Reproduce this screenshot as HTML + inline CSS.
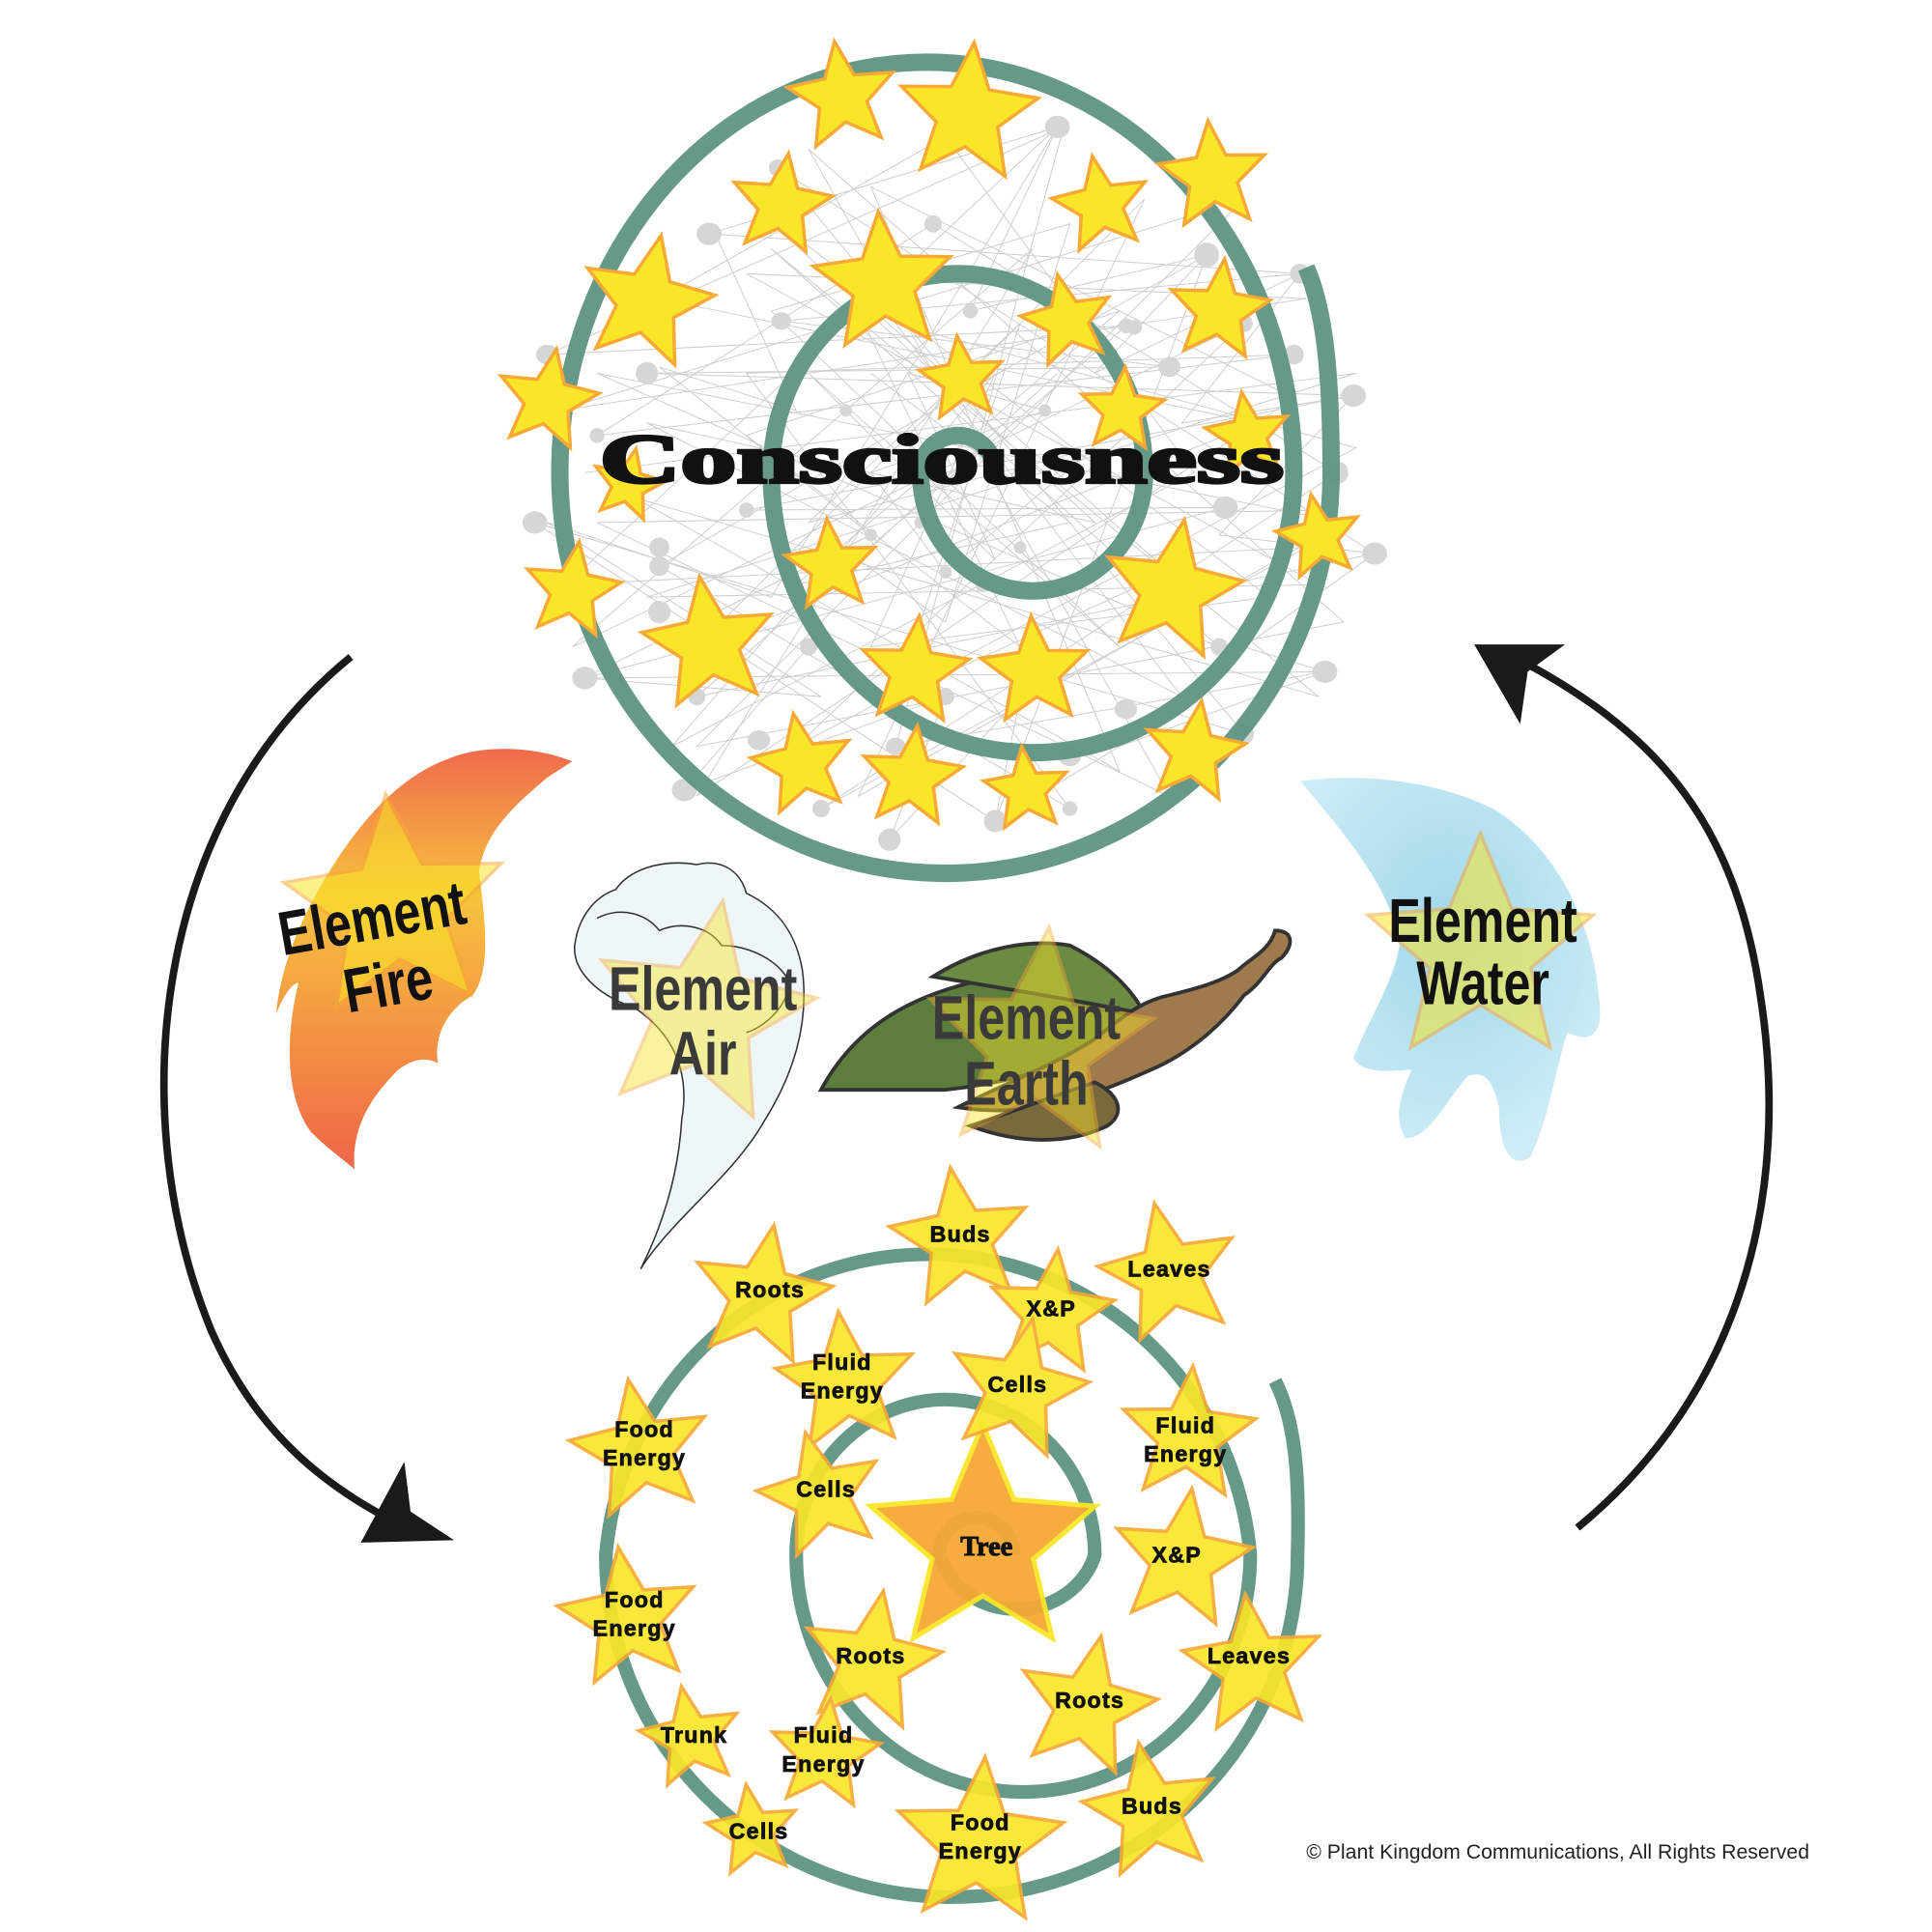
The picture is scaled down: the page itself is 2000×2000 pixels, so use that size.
<!DOCTYPE html>
<html><head><meta charset="utf-8"><style>
html,body{margin:0;padding:0;background:#fff}
svg{display:block}
.lbl{font-family:"Liberation Sans",sans-serif;font-weight:bold;text-anchor:middle;font-size:50px}
.sl{font-family:"Liberation Sans",sans-serif;font-weight:900;font-size:18px;text-anchor:middle;fill:#111;stroke:#111;stroke-width:0.6;letter-spacing:1px}
</style></head><body>
<svg width="2000" height="2000" viewBox="0 0 1553 1553" xmlns="http://www.w3.org/2000/svg">
<defs>
<path id="st" d="M0,-1 L0.265,-0.364 L0.951,-0.309 L0.428,0.139 L0.588,0.809 L0,0.45 L-0.588,0.809 L-0.428,0.139 L-0.951,-0.309 L-0.265,-0.364Z" fill="#f9e629" stroke="#f6a934" stroke-width="3.5" vector-effect="non-scaling-stroke"/>
<path id="sto" d="M0,-1 L0.265,-0.364 L0.951,-0.309 L0.428,0.139 L0.588,0.809 L0,0.45 L-0.588,0.809 L-0.428,0.139 L-0.951,-0.309 L-0.265,-0.364Z" fill="#f6a934" stroke="#f9e629" stroke-width="5" vector-effect="non-scaling-stroke"/>
<linearGradient id="fire" x1="0" y1="0" x2="0" y2="1">
<stop offset="0" stop-color="#ef6a4d"/><stop offset="0.35" stop-color="#f7c33e"/><stop offset="1" stop-color="#ef6548"/></linearGradient>
<radialGradient id="wat" cx="0.5" cy="0.4" r="0.6"><stop offset="0" stop-color="#8fd0e6"/><stop offset="1" stop-color="#c5e9f5"/></radialGradient>
</defs>

<!-- network -->
<g stroke="#cfcfcf" stroke-width="0.8" fill="none">
<polyline points="850,102 570,188 1045,220 628,258 940,295 520,300 1088,318 600,410 985,408 470,545 1065,540 720,600 855,102 440,285 905,262 560,560 1105,445 625,135 1000,590 430,420 800,660 970,205 530,455 860,650 600,300 1040,285 480,350 750,180 1075,380 660,650 1050,440 455,470 850,102"/>
<polyline points="760,110 530,240 1010,340 560,520 920,160 690,640 1080,420 480,300 980,520 620,200 1060,560 510,400 900,620 700,150 1040,320 560,640 830,200 460,520 1000,260 640,600 1090,360 720,260 950,560 520,340 880,420 600,160 1020,480 700,520 800,300 540,600 960,380 760,110"/>
<polyline points="700,300 860,420 640,470 900,250 600,350 820,520 680,230 940,460 720,560 820,260 650,420 880,360 760,460 700,380 840,330 730,300 800,450 650,300 900,520 620,250 860,180 760,500 690,450 850,300"/>
<polyline points="575,188 640,330 530,295 700,430 470,545 660,560 440,420 620,480 850,102 780,250 970,205 880,300 1045,220 950,340 1088,318 980,430 1105,445 1000,520 1065,540 900,600 800,660 820,560 715,675 760,560 550,635 650,520"/>
<polyline points="470,380 1090,300 520,480 1060,470 600,220 1050,240 450,330 1000,160 560,600 1080,500 650,120 940,640 480,420 1070,410"/>
</g>
<g fill="#d6d6d6">
<ellipse cx="850" cy="102" rx="10" ry="9"/><ellipse cx="570" cy="188" rx="10" ry="9"/><ellipse cx="1045" cy="220" rx="8" ry="8"/><ellipse cx="628" cy="258" rx="8" ry="7"/><ellipse cx="940" cy="295" rx="9" ry="8"/><ellipse cx="520" cy="300" rx="9" ry="9"/><ellipse cx="1088" cy="318" rx="10" ry="9"/><ellipse cx="600" cy="410" rx="6" ry="6"/><ellipse cx="985" cy="408" rx="10" ry="9"/><ellipse cx="470" cy="545" rx="10" ry="9"/><ellipse cx="1065" cy="540" rx="10" ry="9"/><ellipse cx="720" cy="600" rx="8" ry="7"/><ellipse cx="440" cy="285" rx="9" ry="8"/><ellipse cx="905" cy="262" rx="6" ry="6"/><ellipse cx="560" cy="560" rx="7" ry="7"/><ellipse cx="1105" cy="445" rx="10" ry="9"/><ellipse cx="625" cy="135" rx="7" ry="7"/><ellipse cx="1000" cy="590" rx="8" ry="8"/><ellipse cx="430" cy="420" rx="10" ry="9"/><ellipse cx="800" cy="660" rx="9" ry="9"/><ellipse cx="970" cy="205" rx="10" ry="10"/><ellipse cx="530" cy="455" rx="8" ry="8"/><ellipse cx="860" cy="650" rx="6" ry="6"/><ellipse cx="1040" cy="285" rx="8" ry="8"/><ellipse cx="480" cy="350" rx="6" ry="6"/><ellipse cx="750" cy="180" rx="7" ry="7"/><ellipse cx="1075" cy="380" rx="9" ry="9"/><ellipse cx="660" cy="650" rx="7" ry="7"/><ellipse cx="455" cy="470" rx="6" ry="6"/><ellipse cx="550" cy="635" rx="10" ry="9"/><ellipse cx="715" cy="675" rx="9" ry="9"/><ellipse cx="610" cy="595" rx="9" ry="8"/><ellipse cx="905" cy="570" rx="9" ry="8"/><ellipse cx="860" cy="608" rx="9" ry="8"/><ellipse cx="530" cy="492" rx="9" ry="9"/><ellipse cx="530" cy="440" rx="8" ry="8"/><ellipse cx="780" cy="250" rx="6" ry="6"/><ellipse cx="912" cy="263" rx="6" ry="6"/><ellipse cx="700" cy="430" rx="5" ry="5"/><ellipse cx="760" cy="460" rx="5" ry="5"/><ellipse cx="820" cy="440" rx="5" ry="5"/><ellipse cx="740" cy="420" rx="5" ry="5"/><ellipse cx="680" cy="330" rx="5" ry="5"/><ellipse cx="840" cy="330" rx="5" ry="5"/><ellipse cx="790" cy="470" rx="6" ry="6"/><ellipse cx="650" cy="520" rx="7" ry="7"/><ellipse cx="820" cy="560" rx="7" ry="7"/><ellipse cx="760" cy="560" rx="7" ry="7"/><ellipse cx="980" cy="520" rx="7" ry="7"/><ellipse cx="1000" cy="260" rx="7" ry="7"/>
</g>

<!-- top spiral -->
<path d="M800,380 A30,30 0 0 0 740,380 A90,95 0 0 0 920,380 A150,160 0 0 0 620,380 A210,225 0 0 0 1040,380 A295,330 0 0 0 450,380 A310,322 0 0 0 1070,380 C1070,300 1065,250 1050,215" fill="none" stroke="#5f9483" stroke-width="14" opacity="0.95"/>

<!-- top stars -->
<g>
<use href="#st" transform="translate(677,78) scale(45) rotate(-8)"/>
<use href="#st" transform="translate(778,92) scale(58) rotate(5)"/>
<use href="#st" transform="translate(975,142) scale(45) rotate(-5)"/>
<use href="#st" transform="translate(628,165) scale(42) rotate(8)"/>
<use href="#st" transform="translate(885,165) scale(40) rotate(-10)"/>
<use href="#st" transform="translate(520,243) scale(55) rotate(12)"/>
<use href="#st" transform="translate(710,228) scale(58) rotate(-4)"/>
<use href="#st" transform="translate(980,250) scale(42) rotate(6)"/>
<use href="#st" transform="translate(858,258) scale(38) rotate(-12)"/>
<use href="#st" transform="translate(440,322) scale(42) rotate(10)"/>
<use href="#st" transform="translate(773,305) scale(35) rotate(-6)"/>
<use href="#st" transform="translate(902,330) scale(35) rotate(4)"/>
<use href="#st" transform="translate(1003,350) scale(35) rotate(-8)"/>
<use href="#st" transform="translate(505,390) scale(30) rotate(12)"/>
<use href="#st" transform="translate(1060,432) scale(35) rotate(-10)"/>
<use href="#st" transform="translate(460,475) scale(40) rotate(8)"/>
<use href="#st" transform="translate(668,455) scale(38) rotate(-5)"/>
<use href="#st" transform="translate(942,475) scale(58) rotate(10)"/>
<use href="#st" transform="translate(570,518) scale(55) rotate(-8)"/>
<use href="#st" transform="translate(735,540) scale(45) rotate(5)"/>
<use href="#st" transform="translate(832,540) scale(45) rotate(-4)"/>
<use href="#st" transform="translate(960,605) scale(42) rotate(8)"/>
<use href="#st" transform="translate(645,615) scale(42) rotate(-10)"/>
<use href="#st" transform="translate(733,625) scale(42) rotate(6)"/>
<use href="#st" transform="translate(825,635) scale(35) rotate(-6)"/>
</g>
<text x="757" y="388" font-family="'Liberation Serif',serif" font-weight="bold" font-size="56" textLength="550" lengthAdjust="spacingAndGlyphs" text-anchor="middle" fill="#111" stroke="#111" stroke-width="2.5">Consciousness</text>

<!-- arrows -->
<path d="M282,528 C120,660 100,900 170,1070 C210,1160 270,1200 330,1230" fill="none" stroke="#1a1a1a" stroke-width="6"/>
<path d="M290,1240 L325,1175 L330,1215 L365,1238 Z" fill="#1a1a1a"/>
<path d="M1268,1228 C1400,1120 1440,960 1415,800 C1395,660 1330,590 1230,535" fill="none" stroke="#1a1a1a" stroke-width="6"/>
<path d="M1185,518 L1258,518 L1228,540 L1222,582 Z" fill="#1a1a1a"/>

<!-- fire -->
<path d="M460,612 C430,600 390,598 360,610 C320,625 290,660 265,700 C240,740 225,780 222,815 C228,800 235,790 240,790 C230,830 228,880 250,910 C265,925 280,935 285,940 C282,905 300,880 320,860 C340,845 352,855 352,855 C348,830 362,810 380,800 C395,780 390,740 385,700 C390,670 410,650 440,625 Z" fill="url(#fire)"/>
<use href="#st" transform="translate(318,730) scale(92) rotate(-5)" opacity="0.55"/>
<g transform="translate(302,755) rotate(-10) scale(0.78,1)"><text class="lbl" fill="#111">Element</text></g>
<g transform="translate(315,808) rotate(-10) scale(0.78,1)"><text class="lbl" fill="#111">Fire</text></g>

<!-- air -->
<path d="M515,1020 C540,980 590,945 615,900 C640,860 650,820 645,780 C640,750 625,730 600,718 C595,700 580,690 560,695 C530,690 505,700 495,715 C480,720 465,735 462,760 C460,780 480,800 510,810 C540,830 555,860 548,900 C545,950 530,990 515,1020 Z" fill="#eef6f8" stroke="#333" stroke-width="1.2"/>
<path d="M480,738 C500,728 520,735 530,748 C548,740 570,745 580,760 C600,760 625,770 635,790 C632,810 615,825 600,830" fill="none" stroke="#333" stroke-width="1.2"/>
<use href="#st" transform="translate(565,815) scale(92) rotate(10)" opacity="0.45"/>
<g transform="translate(565,812) scale(0.78,1)"><text class="lbl" fill="#3a3a3a">Element</text></g>
<g transform="translate(565,864) scale(0.78,1)"><text class="lbl" fill="#3a3a3a">Air</text></g>

<!-- earth -->
<path d="M660,876 C690,820 740,800 780,790 C820,785 880,795 930,815 C880,850 820,870 760,876 Z" fill="#5c7d3b" stroke="#333" stroke-width="3"/>
<path d="M750,785 C790,760 830,755 860,760 C890,775 910,795 920,815 C870,805 810,795 750,785 Z" fill="#6b8a42" stroke="#333" stroke-width="3"/>
<path d="M770,890 C830,900 880,880 925,860 C960,845 985,820 1000,800 C1015,790 1020,775 1030,770 C1040,760 1040,748 1025,748 C1020,765 1005,770 995,780 C980,790 960,795 940,800 C915,805 900,820 880,835 C850,855 810,870 770,890 Z" fill="#9e7a4d" stroke="#333" stroke-width="3"/>
<path d="M780,905 C810,895 850,880 880,870 C900,880 905,895 890,905 C860,920 820,920 780,905 Z" fill="#7a6a3b" stroke="#333" stroke-width="3"/>
<use href="#st" transform="translate(835,840) scale(95) rotate(5)" opacity="0.45"/>
<g transform="translate(825,835) scale(0.78,1)"><text class="lbl" fill="#3a3a3a">Element</text></g>
<g transform="translate(825,888) scale(0.78,1)"><text class="lbl" fill="#3a3a3a">Earth</text></g>

<!-- water -->
<path d="M1045,628 C1100,620 1160,630 1200,650 C1250,680 1280,740 1285,800 C1290,830 1280,840 1260,830 C1250,860 1245,900 1230,930 C1215,940 1205,925 1205,890 C1200,870 1195,860 1180,865 C1165,880 1150,915 1130,915 C1120,900 1125,880 1135,860 C1120,860 1095,865 1088,850 C1100,820 1120,790 1125,760 C1120,720 1090,680 1045,628 Z" fill="url(#wat)" opacity="0.85"/>
<use href="#st" transform="translate(1190,765) scale(95)" opacity="0.55"/>
<g transform="translate(1192,757) scale(0.78,1)"><text class="lbl" fill="#111">Element</text></g>
<g transform="translate(1192,807) scale(0.78,1)"><text class="lbl" fill="#111">Water</text></g>

<!-- bottom spiral -->
<path d="M815,1250 A30,30 0 0 0 755,1250 A65,60 0 0 0 880,1250 A120,125 0 0 0 640,1250 A182,190 0 0 0 1005,1250 A260,265 0 0 0 487,1250 A278,275 0 0 0 1043,1250 C1045,1180 1040,1140 1025,1110" fill="none" stroke="#5f9483" stroke-width="11" opacity="0.95"/>

<!-- bottom stars -->
<use href="#sto" transform="translate(790,1240) scale(95)" opacity="0.95"/>
<text x="793" y="1250" font-family="'Liberation Serif',serif" font-weight="bold" font-size="22" text-anchor="middle" fill="#111" stroke="#111" stroke-width="0.8">Tree</text>
<g opacity="0.92">
<use href="#st" transform="translate(772,996) scale(58) rotate(-8)"/>
<use href="#st" transform="translate(612,1042) scale(58) rotate(10)"/>
<use href="#st" transform="translate(940,1024) scale(58) rotate(-12)"/>
<use href="#st" transform="translate(845,1056) scale(52) rotate(6)"/>
<use href="#st" transform="translate(680,1112) scale(58) rotate(-6)"/>
<use href="#st" transform="translate(818,1117) scale(58) rotate(12)"/>
<use href="#st" transform="translate(515,1166) scale(58) rotate(-10)"/>
<use href="#st" transform="translate(955,1154) scale(56) rotate(4)"/>
<use href="#st" transform="translate(660,1202) scale(52) rotate(-14)"/>
<use href="#st" transform="translate(950,1254) scale(58) rotate(8)"/>
<use href="#st" transform="translate(505,1301) scale(58) rotate(-8)"/>
<use href="#st" transform="translate(700,1336) scale(58) rotate(10)"/>
<use href="#st" transform="translate(1007,1339) scale(58) rotate(-6)"/>
<use href="#st" transform="translate(873,1372) scale(58) rotate(12)"/>
<use href="#st" transform="translate(555,1397) scale(42) rotate(-10)"/>
<use href="#st" transform="translate(663,1411) scale(46) rotate(6)"/>
<use href="#st" transform="translate(605,1472) scale(38) rotate(-8)"/>
<use href="#st" transform="translate(787,1482) scale(70) rotate(4)"/>
<use href="#st" transform="translate(925,1456) scale(56) rotate(-10)"/>
</g>
<g>
<text class="sl" x="772" y="998">Buds</text>
<text class="sl" x="619" y="1043">Roots</text>
<text class="sl" x="940" y="1026">Leaves</text>
<text class="sl" x="845" y="1058">X&amp;P</text>
<text class="sl" x="677" y="1101">Fluid</text><text class="sl" x="677" y="1124">Energy</text>
<text class="sl" x="818" y="1119">Cells</text>
<text class="sl" x="518" y="1155">Food</text><text class="sl" x="518" y="1178">Energy</text>
<text class="sl" x="953" y="1152">Fluid</text><text class="sl" x="953" y="1175">Energy</text>
<text class="sl" x="664" y="1203">Cells</text>
<text class="sl" x="946" y="1256">X&amp;P</text>
<text class="sl" x="510" y="1292">Food</text><text class="sl" x="510" y="1315">Energy</text>
<text class="sl" x="700" y="1337">Roots</text>
<text class="sl" x="1004" y="1337">Leaves</text>
<text class="sl" x="876" y="1373">Roots</text>
<text class="sl" x="558" y="1401">Trunk</text>
<text class="sl" x="662" y="1401">Fluid</text><text class="sl" x="662" y="1424">Energy</text>
<text class="sl" x="610" y="1478">Cells</text>
<text class="sl" x="788" y="1471">Food</text><text class="sl" x="788" y="1494">Energy</text>
<text class="sl" x="926" y="1458">Buds</text>
</g>

<text x="1050" y="1494" font-family="'Liberation Sans',sans-serif" font-size="16.5" fill="#222">© Plant Kingdom Communications, All Rights Reserved</text>
</svg>
</body></html>
